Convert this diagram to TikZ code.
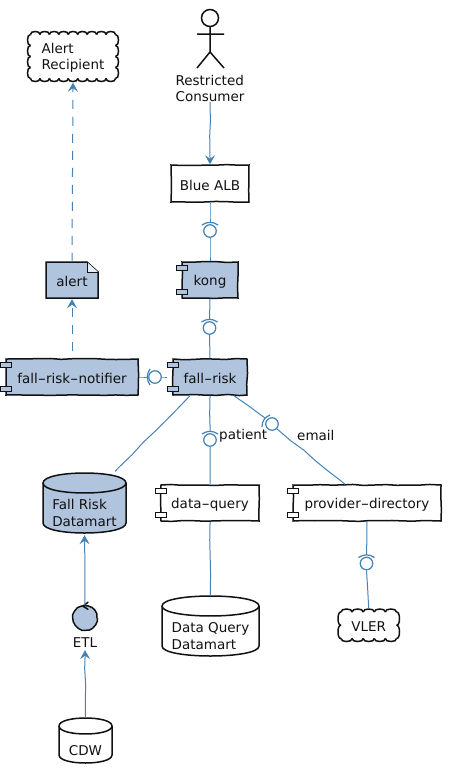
\documentclass[tikz,border=0pt]{standalone}
\usepackage{fontspec}
\usepackage{graphicx}
\setmainfont{DejaVu Sans}
\usetikzlibrary{arrows.meta,decorations.pathmorphing}
\definecolor{steel}{HTML}{4682B4}
\definecolor{paleblue}{HTML}{B0C4DE}
\definecolor{ink}{HTML}{111111}
\pgfmathsetseed{7}
\newcommand{\hy}{\scalebox{1.7}[1]{-}}
\newcommand{\dn}[1]{\raisebox{-1.5pt}[\height][\depth]{#1}}
\tikzset{
  lbl/.style={font=\fontsize{13.5}{16.5}\selectfont,text=ink,inner sep=0pt,align=left},
  wob/.style={decorate,decoration={random steps,segment length=11pt,amplitude=.55pt}},
  box/.style={lbl,align=center,draw=ink,line width=1.5pt,wob},
  port/.style={draw=ink,line width=1.1pt},
  link/.style={draw=steel,line width=1pt,decorate,decoration={random steps,segment length=16pt,amplitude=.5pt,post length=7pt,pre length=2pt}},
  arrowed/.style={-{Stealth[length=9pt,width=10pt,inset=3.5pt]}},
  dashlink/.style={draw=steel,line width=1pt,dash pattern=on 9pt off 8pt},
  ifc/.style={circle,draw=steel,line width=1.2pt,fill=white,minimum size=12.5pt,inner sep=0pt},
  sock/.style={draw=steel,line width=1.2pt},
  shapeline/.style={draw=ink,line width=1.5pt},
}
% name, x1, y1, x2, y2, fill, text
\newcommand{\compnode}[7]{%
  \pgfmathsetmacro{\cxx}{(#2+#4)/2}\pgfmathsetmacro{\cyy}{(#3+#5)/2}%
  \pgfmathsetmacro{\ww}{#4-#2}\pgfmathsetmacro{\hh}{#5-#3}%
  \node[box,fill=#6,minimum width=\ww pt,minimum height=\hh pt] (#1) at (\cxx,\cyy) {\dn{#7}};
  \draw[port,fill=#6] ([shift={(-5,4.5)}]#1.north west) rectangle ([shift={(6,9.5)}]#1.north west);
  \draw[port,fill=#6] ([shift={(-5,-9.5)}]#1.south west) rectangle ([shift={(6,-4.5)}]#1.south west);
}
% name, x1, y1, x2, y2, ry, fill, text
\newcommand{\dbnode}[8]{%
  \pgfmathsetmacro{\cxx}{(#2+#4)/2}\pgfmathsetmacro{\cyy}{(#3+#5)/2}%
  \pgfmathsetmacro{\ww}{#4-#2}\pgfmathsetmacro{\hh}{#5-#3}%
  \pgfmathsetmacro{\ya}{#3+#6}\pgfmathsetmacro{\yb}{#5-#6}%
  \draw[shapeline,fill=#7] (#2,\ya) .. controls (#2,#3-#6/3) and (#4,#3-#6/3) .. (#4,\ya) -- (#4,\yb) .. controls (#4,#5+#6/3) and (#2,#5+#6/3) .. (#2,\yb) -- cycle;
  \draw[shapeline] (#2,\ya) .. controls (#2,\ya+#6*1.33) and (#4,\ya+#6*1.33) .. (#4,\ya);
  \pgfmathsetmacro{\cty}{\cyy+10}%
  \node[lbl,minimum width=\ww pt,minimum height=\hh pt] (#1) at (\cxx,\cyy) {};
  \node[lbl] (#1text) at (\cxx,\cty) {#8};
}
% name, x1, y1, x2, y2 (inner rectangle), nx, ny, text
\newcommand{\cloudnode}[8]{%
  \pgfmathsetmacro{\cxx}{(#2+#4)/2}\pgfmathsetmacro{\cyy}{(#3+#5)/2+1.5}%
  \pgfmathsetmacro{\ww}{#4-#2+5}\pgfmathsetmacro{\hh}{#5-#3+5}%
  \pgfmathsetmacro{\sx}{(#4-#2)/#6}\pgfmathsetmacro{\sy}{(#5-#3)/#7}%
  \pgfmathtruncatemacro{\mx}{#6-1}\pgfmathtruncatemacro{\my}{#7-1}%
  \foreach \i in {0,...,\mx}{%
    \pgfmathsetmacro{\xa}{#2+\i*\sx}\pgfmathsetmacro{\xb}{\xa+\sx}%
    \draw[shapeline] (\xa,#3) .. controls (\xa-.6,#3-4) and (\xb+.6,#3-4) .. (\xb,#3);
    \draw[shapeline] (\xa,#5) .. controls (\xa-.6,#5+4) and (\xb+.6,#5+4) .. (\xb,#5);
  }
  \foreach \i in {0,...,\my}{%
    \pgfmathsetmacro{\ya}{#3+\i*\sy}\pgfmathsetmacro{\yb}{\ya+\sy}%
    \draw[shapeline] (#2,\ya) .. controls (#2-4,\ya-.6) and (#2-4,\yb+.6) .. (#2,\yb);
    \draw[shapeline] (#4,\ya) .. controls (#4+4,\ya-.6) and (#4+4,\yb+.6) .. (#4,\yb);
  }
  \node[lbl,minimum width=\ww pt,minimum height=\hh pt] (#1) at (\cxx,\cyy) {#8};
}
\begin{document}
\begin{tikzpicture}[x=1pt,y=-1pt]
\useasboundingbox (0,0) rectangle (450,774);

% actor
\coordinate (hd) at (210,18);
\draw[shapeline] (hd) circle (8.5);
\coordinate (neck) at (210,27);
\coordinate (hip) at (210,52);
\coordinate (armL) at (197,34);
\coordinate (armR) at (224,34);
\coordinate (legL) at (197,68);
\coordinate (legR) at (224,68);
\draw[shapeline] (neck) -- (hip) (armL) -- (armR) (legL) -- (hip) -- (legR);
\node[lbl] (consumer) at (210,88.5) {Restricted\\Consumer};

% clouds
\cloudnode{recipient}{30.5}{34.5}{115.5}{78.5}{9}{4}{Alert\\Recipient}
\cloudnode{vler}{341}{612}{396.5}{638.5}{5}{2}{VLER}

% plain boxes
\node[box,fill=white,minimum width=78pt,minimum height=37pt] (alb) at (210,183.5) {\dn{Blue ALB}};

% note
\draw[shapeline,fill=paleblue] (46,262) -- (87,262) -- (98,272) -- (98,298) -- (46,298) -- cycle;
\draw[line width=1pt,draw=ink,fill=white!70!paleblue] (87,262) -- (87,272) -- (98,272);
\node[lbl,minimum width=52pt,minimum height=36pt,align=center] (alert) at (72,280) {\dn{alert}};

% components
\compnode{kong}{182}{262}{238}{298}{paleblue}{kong}
\compnode{fallrisk}{173}{359}{247}{395}{paleblue}{fall\hy risk}
\compnode{notifier}{6}{359}{138}{395}{paleblue}{fall\hy risk\hy notifier}
\compnode{dataquery}{161}{485}{259}{521}{white}{data\hy query}
\compnode{provider}{293}{485}{441}{521}{white}{provider\hy directory}

% datastores
\dbnode{frdm}{43}{473}{126}{533}{10}{paleblue}{Fall Risk\\Datamart}
\dbnode{dqdm}{162}{596}{259}{656}{10}{white}{Data Query\\Datamart}
\dbnode{cdw}{59}{718}{112}{763}{8}{white}{CDW}

% control
\node[circle,draw=ink,line width=1.5pt,fill=paleblue,minimum size=24pt,inner sep=0pt,decorate,decoration={random steps,segment length=4pt,amplitude=.35pt}] (etl) at (85,618) {};
\draw[draw=ink,line width=1.5pt,line cap=round] ([shift={(3,-3)}]etl.north) -- ([shift={(-2,1)}]etl.north) -- ([shift={(3,4)}]etl.north);
\node[lbl] (etllabel) at (85,643) {ETL};

% interfaces
\node[ifc] (i1) at (210,231) {};
\node[ifc] (i2) at (209.5,328) {};
\node[ifc] (i3) at (155,377) {};
\node[ifc] (i4) at (210,440) {};
\node[ifc] (i5) at (272,424) {};
\node[ifc] (i6) at (366.5,563.5) {};

\draw[sock] ([shift={(-8,-6)}]i1.center) to[bend left=35] ([shift={(8,-6)}]i1.center);
\draw[sock] ([shift={(-8,-6)}]i2.center) to[bend left=35] ([shift={(8,-6)}]i2.center);
\draw[sock] ([shift={(-8,-6)}]i4.center) to[bend left=35] ([shift={(8,-6)}]i4.center);
\draw[sock] ([shift={(-8,-6)}]i6.center) to[bend left=35] ([shift={(8,-6)}]i6.center);
\draw[sock] ([shift={(-5,8)}]i3.center) to[bend left=35] ([shift={(-5,-8)}]i3.center);
\draw[sock] ([shift={(-10,3)}]i5.center) to[bend left=35] ([shift={(-2,-9)}]i5.center);

% connectors
\draw[link,arrowed] (consumer.south) -- (alb.north);
\draw[link] (alb.south) -- ([yshift=8.5pt]i1.center);
\draw[link] (i1.south) -- (kong.north);
\draw[link] (kong.south) -- ([yshift=8.5pt]i2.center);
\draw[link] (i2.south) -- (fallrisk.north);
\draw[link] (notifier.east) -- ([xshift=-8pt]i3.center);
\draw[link] (i3.east) -- ([xshift=-5pt]fallrisk.west);
\draw[link] ([xshift=-20pt]fallrisk.south) -- ([shift={(30.5,-1.5)}]frdm.north);
\draw[link] (fallrisk.south) -- ([yshift=8.5pt]i4.center);
\draw[link] (i4.south) -- (dataquery.north);
\draw[link] ([xshift=24pt]fallrisk.south) -- ([shift={(-7,-6)}]i5.center);
\draw[link] (i5.south east) -- ([xshift=-22pt]provider.north);
\draw[link] (provider.south) -- ([yshift=8.5pt]i6.center);
\draw[link] (i6.south) -- ([yshift=2pt]vler.north);
\draw[link] (dataquery.south) -- (dqdm.north);
\draw[link,arrowed] (etl.north) -- ([yshift=-2pt]frdm.south);
\draw[link,arrowed] (cdw.north) -- ([yshift=-2pt]etllabel.south);
\draw[dashlink,arrowed] ([yshift=7pt]notifier.north) -- ([yshift=-1pt]alert.south);
\draw[dashlink,arrowed] (alert.north) -- (recipient.south);

% labels
\node[lbl,anchor=west] (patient) at (219,435.5) {patient};
\node[lbl,anchor=west] (email) at (297,435.5) {email};
\end{tikzpicture}
\end{document}
